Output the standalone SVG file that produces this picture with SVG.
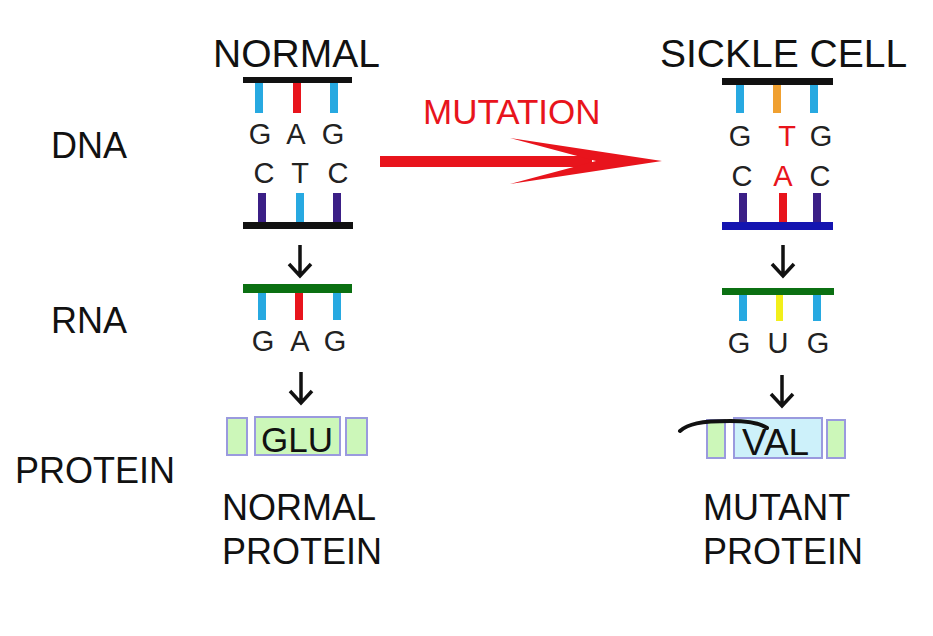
<svg xmlns="http://www.w3.org/2000/svg" xmlns:xlink="http://www.w3.org/1999/xlink" width="933" height="636" viewBox="0 0 933 636">
<style>
text{font-family:"Liberation Sans",Arial,sans-serif;fill:#111}
.ttl{font-size:39px}
.lbl{font-size:36px}
.big{font-size:36px}
.base{font-size:29px;text-anchor:middle;fill:#222}
.mut{fill:#e8141c}
.bk{fill:#111}
.cb{fill:#27a9e1}
.cr{fill:#e8141c}
.co{fill:#f0a030}
.cp{fill:#3b1f86}
.cy{fill:#f2ef1a}
.cg{fill:#0b7012}
.cn{fill:#1414b0}
.box{fill:#ccf7b9;stroke:#9a9ade;stroke-width:2}
.boxb{fill:#cdf1fa;stroke:#9a9ade;stroke-width:2}
.dn{fill:none;stroke:#111;stroke-width:3.5}
</style>
<defs>
<g id="down"><path class="dn" d="M0,0 V31 M-11,19 L0,31 L11,19"/></g>
</defs>

<g id="labels">
<text class="lbl" x="51" y="158">DNA</text>
<text class="lbl" x="51" y="333">RNA</text>
<text class="big" x="15" y="483">PROTEIN</text>
</g>

<g id="normal-dna">
<text class="ttl" x="213" y="67">NORMAL</text>
<rect class="bk" x="243" y="77" width="109" height="6"/>
<rect class="cb" x="255" y="83" width="8" height="30"/>
<rect class="cr" x="293" y="83" width="8" height="30"/>
<rect class="cb" x="330" y="83" width="8" height="30"/>
<text class="base" x="260" y="144">G</text>
<text class="base" x="296" y="144">A</text>
<text class="base" x="333" y="144">G</text>
<text class="base" x="264" y="183">C</text>
<text class="base" x="300" y="183">T</text>
<text class="base" x="338" y="183">C</text>
<rect class="cp" x="258" y="193" width="8" height="30"/>
<rect class="cb" x="296" y="193" width="8" height="30"/>
<rect class="cp" x="333" y="193" width="8" height="30"/>
<rect class="bk" x="243" y="222" width="110" height="7"/>
</g>

<g id="sickle-dna">
<text class="ttl" x="660" y="67">SICKLE CELL</text>
<rect class="bk" x="722" y="78" width="111" height="7"/>
<rect class="cb" x="736" y="85" width="8" height="28"/>
<rect class="co" x="773" y="85" width="8" height="28"/>
<rect class="cb" x="810" y="85" width="8" height="28"/>
<text class="base" x="740" y="146">G</text>
<text class="base mut" x="787" y="146">T</text>
<text class="base" x="821" y="146">G</text>
<text class="base" x="742" y="186">C</text>
<text class="base mut" x="783" y="186">A</text>
<text class="base" x="820" y="186">C</text>
<rect class="cp" x="739" y="193" width="8" height="30"/>
<rect class="cr" x="779" y="193" width="8" height="30"/>
<rect class="cp" x="813" y="193" width="8" height="30"/>
<rect class="cn" x="722" y="222" width="111" height="8"/>
</g>

<g id="mutation">
<text class="mut" x="423" y="124" font-size="35">MUTATION</text>
<rect class="mut" x="380" y="156" width="212" height="11"/>
<polygon class="mut" points="510,138 662,161 510,184 596,161"/>
</g>

<g id="normal-rna">
<rect class="cg" x="243" y="284" width="109" height="9"/>
<rect class="cb" x="258" y="293" width="8" height="27"/>
<rect class="cr" x="295" y="293" width="8" height="27"/>
<rect class="cb" x="333" y="293" width="8" height="27"/>
<text class="base" x="263" y="351">G</text>
<text class="base" x="300" y="351">A</text>
<text class="base" x="335" y="351">G</text>
</g>

<g id="sickle-rna">
<rect class="cg" x="722" y="288" width="112" height="7"/>
<rect class="cb" x="739" y="295" width="8" height="26"/>
<rect class="cy" x="776" y="295" width="7" height="26"/>
<rect class="cb" x="813" y="295" width="8" height="26"/>
<text class="base" x="739" y="353">G</text>
<text class="base" x="778" y="353">U</text>
<text class="base" x="818" y="353">G</text>
</g>

<g id="normal-protein">
<rect class="box" x="227" y="418" width="20" height="37"/>
<rect class="box" x="255" y="417" width="85" height="38"/>
<rect class="box" x="346" y="418" width="21" height="37"/>
<text x="261" y="452" font-size="35">GLU</text>
<text class="big" x="222" y="520">NORMAL</text>
<text class="big" x="222" y="564">PROTEIN</text>
</g>

<g id="sickle-protein">
<rect class="box" x="707" y="420" width="18" height="38"/>
<rect class="boxb" x="734" y="418" width="88" height="40"/>
<rect class="box" x="827" y="420" width="18" height="38"/>
<text x="742" y="455" font-size="37">VAL</text>
<path d="M680,431 C688,424 700,421 730,421 C750,421 760,423 767,428" fill="none" stroke="#111" stroke-width="4" stroke-linecap="round"/>
<text class="big" x="703" y="520">MUTANT</text>
<text class="big" x="703" y="564">PROTEIN</text>
</g>

<g id="connectors">
<use xlink:href="#down" x="300" y="245"/>
<use xlink:href="#down" x="301" y="372"/>
<use xlink:href="#down" x="783" y="245"/>
<use xlink:href="#down" x="782" y="375"/>
</g>
</svg>
